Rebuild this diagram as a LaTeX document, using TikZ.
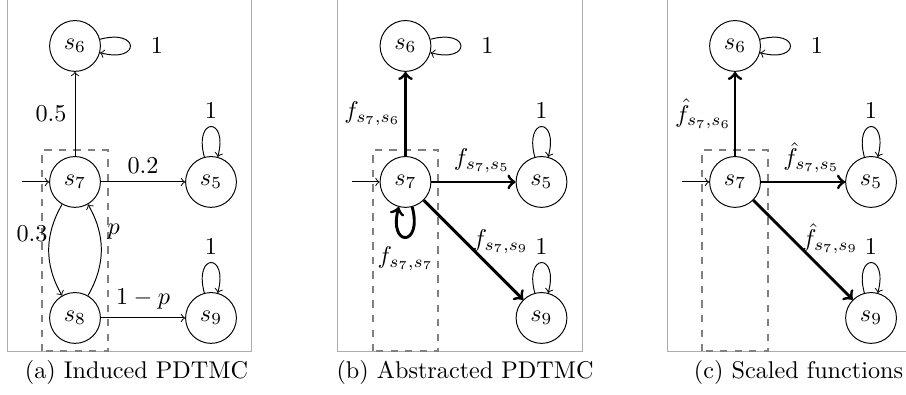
\documentclass[tikz,border=0pt]{standalone}
\usetikzlibrary{positioning}
\begin{document}
\begin{tikzpicture}[auto, x=56.2pt, y=56.2pt,
    state/.style ={circle, draw, inner sep=0pt, minimum size=21pt},
    frame/.style ={gray!65},
    group/.style ={dashed, thick, gray}]
   \useasboundingbox (-0.5515,-1.566) rectangle (6.110,1.338);
   % (a) induced
   \draw[frame] (-0.5,1.6) |- (1.3,-1.243) -- (1.3,1.6);
   \draw[group] (-0.24,-1.245) rectangle (0.24,0.235);
   \node[state] (a6)  at (0,1)  {$s_6$};
   \node[state] (a7)  at (0,0)  {$s_7$};
   \node[state] (a5)  at (1,0)  {$s_5$};
   \node[state] (a8)  at (0,-1)  {$s_8$};
   \node[state] (a9)  at (1,-1)  {$s_9$};
   \coordinate (ai) at (-0.39,0);
   \draw[->] (ai) -- (a7);
   \draw[->] (a7) -- node[left] {$0.5$} (a6);
   \draw[->] (a7) -- node[above] {$0.2$} (a5);
   \draw[->] (a7) to [bend right=30] node[left, pos=0.32, inner sep=1pt] {$0.3$} (a8);
   \draw[->] (a8) to [bend right=30] node[right, pos=0.7] {$p$} (a7);
   \draw[->] (a8) -- node[above] {$1-p$} (a9);
   \draw[->] (a6) to [loop right] node[right=5pt] {$1$} (a6);
   \draw[->] (a5) to [loop above] node[above] {$1$} (a5);
   \draw[->] (a9) to [loop above] node[above] {$1$} (a9);
   \node (capa) at (0.452,-1.404) {(a) Induced PDTMC};
   % (b) abstracted
   \draw[frame] (1.93,1.6) |- (3.73,-1.243) -- (3.73,1.6);
   \draw[group] (2.19,-1.245) rectangle (2.67,0.235);
   \node[state] (b6)  at (2.43,1)  {$s_6$};
   \node[state] (b7)  at (2.43,0)  {$s_7$};
   \node[state] (b5)  at (3.43,0)  {$s_5$};
   \node[state] (b9)  at (3.43,-1)  {$s_9$};
   \coordinate (bi) at (2.04,0);
   \draw[->] (bi) -- (b7);
   \draw[very thick, ->] (b7) -- node[left, inner sep=1.5pt] {$f_{s_7,s_6}$} (b6);
   \draw[very thick, ->] (b7) -- node[above, pos=0.6] {$f_{s_7,s_5}$} (b5);
   \draw[very thick, ->] (b7) -- node[above right, pos=0.55, inner sep=0pt, xshift=-3pt] {$f_{s_7,s_9}$} (b9);
   \draw[very thick, ->] (b7) to [loop below] node[below] {$f_{s_7,s_7}$} (b7);
   \draw[->] (b6) to [loop right] node[right=5pt] {$1$} (b6);
   \draw[->] (b5) to [loop above] node[above] {$1$} (b5);
   \draw[->] (b9) to [loop above] node[above] {$1$} (b9);
   \node (capb) at (2.868,-1.404) {(b) Abstracted PDTMC};
   % (c) scaled
   \draw[frame] (4.353,1.6) |- (6.154,-1.243) -- (6.154,1.6);
   \draw[group] (4.613,-1.245) rectangle (5.093,0.235);
   \node[state] (c6)  at (4.853,1)  {$s_6$};
   \node[state] (c7)  at (4.853,0)  {$s_7$};
   \node[state] (c5)  at (5.853,0)  {$s_5$};
   \node[state] (c9)  at (5.853,-1)  {$s_9$};
   \coordinate (ci) at (4.463,0);
   \draw[->] (ci) -- (c7);
   \draw[very thick, ->] (c7) -- node[left, inner sep=1pt] {$\hat{f}_{s_7,s_6}$} (c6);
   \draw[very thick, ->] (c7) -- node[above, pos=0.6] {$\hat{f}_{s_7,s_5}$} (c5);
   \draw[very thick, ->] (c7) -- node[above right, pos=0.55, inner sep=0pt, xshift=-3pt] {$\hat{f}_{s_7,s_9}$} (c9);
   \draw[->] (c6) to [loop right] node[right=5pt] {$1$} (c6);
   \draw[->] (c5) to [loop above] node[above] {$1$} (c5);
   \draw[->] (c9) to [loop above] node[above] {$1$} (c9);
   \node (capc) at (5.320,-1.404) {(c) Scaled functions};
\end{tikzpicture}
\end{document}
